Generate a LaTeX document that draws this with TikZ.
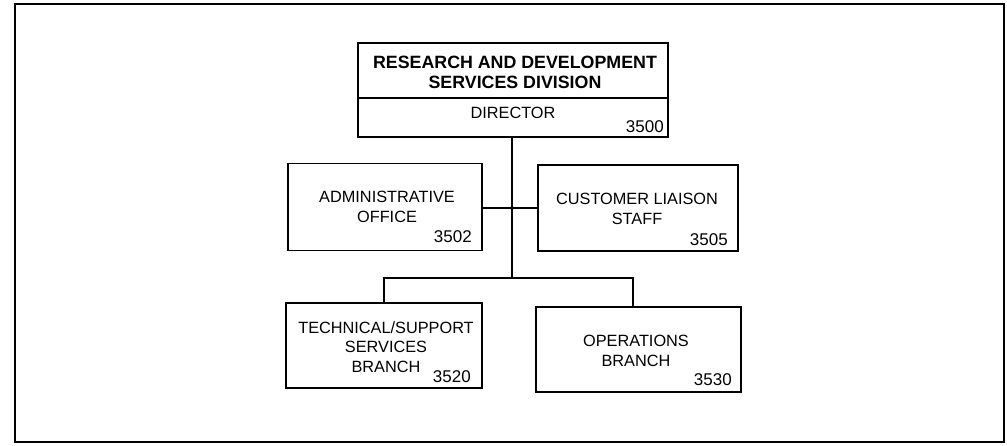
\documentclass[tikz,border=0pt]{standalone}
\usepackage{fontspec}
\setmainfont{Liberation Sans}
\begin{document}
\begin{tikzpicture}[x=1pt,y=-1pt,
  box/.style={draw,line width=1.3pt,minimum width=#1,inner sep=0pt},
  txt/.style={font=\fontsize{16.3}{19.5}\selectfont,align=center,inner sep=0pt},
  ttl/.style={font=\bfseries\fontsize{17.8}{20}\selectfont,align=center,inner sep=0pt},
  num/.style={font=\fontsize{17}{18}\selectfont,inner sep=0pt,anchor=east},
  conn/.style={line width=1.1pt}]
\useasboundingbox (0,0) rectangle (1007,445);
\draw[line width=2pt] (15,4) rectangle (1004,442);
% boxes
\node[box=310pt,minimum height=94pt] (top) at (513,90) {};
\node[box=194pt,minimum height=87pt] (admin) at (385,207) {};
\node[box=200pt,minimum height=86pt] (cust) at (638,208) {};
\node[box=196pt,minimum height=85pt] (tech) at (384,345.5) {};
\node[box=205pt,minimum height=85pt] (ops) at (638.5,349.5) {};
\draw[line width=1.3pt] (top.west |- 0,98) -- (top.east |- 0,98);
% texts
\node[ttl] (ttltxt) at (515,72) {RESEARCH AND DEVELOPMENT\\SERVICES DIVISION};
\node[txt] (dir) at (513,113) {DIRECTOR};
\node[num] (n3500) at (664,127) {3500};
\node[txt] (admintxt) at (387,207) {ADMINISTRATIVE\\OFFICE};
\node[num] (n3502) at (472,237) {3502};
\node[txt] (custtxt) at (637,209) {CUSTOMER LIAISON\\STAFF};
\node[num] (n3505) at (728,240) {3505};
\node[txt] (techtxt) at (386,347) {TECHNICAL/SUPPORT\\SERVICES\\BRANCH};
\node[num] (n3520) at (471,377) {3520};
\node[txt] (opstxt) at (636,351) {OPERATIONS\\BRANCH};
\node[num] (n3530) at (732,380) {3530};
% connectors
\coordinate (bus) at (512,278);
\draw[conn] (top.south -| bus) -- (bus);
\draw[conn] (cust.west -| admin.east) -- (cust.west);
\draw[conn] (tech.north) |- (bus);
\draw[conn] ([xshift=-5.5pt]ops.north) |- (bus);
\end{tikzpicture}
\end{document}
